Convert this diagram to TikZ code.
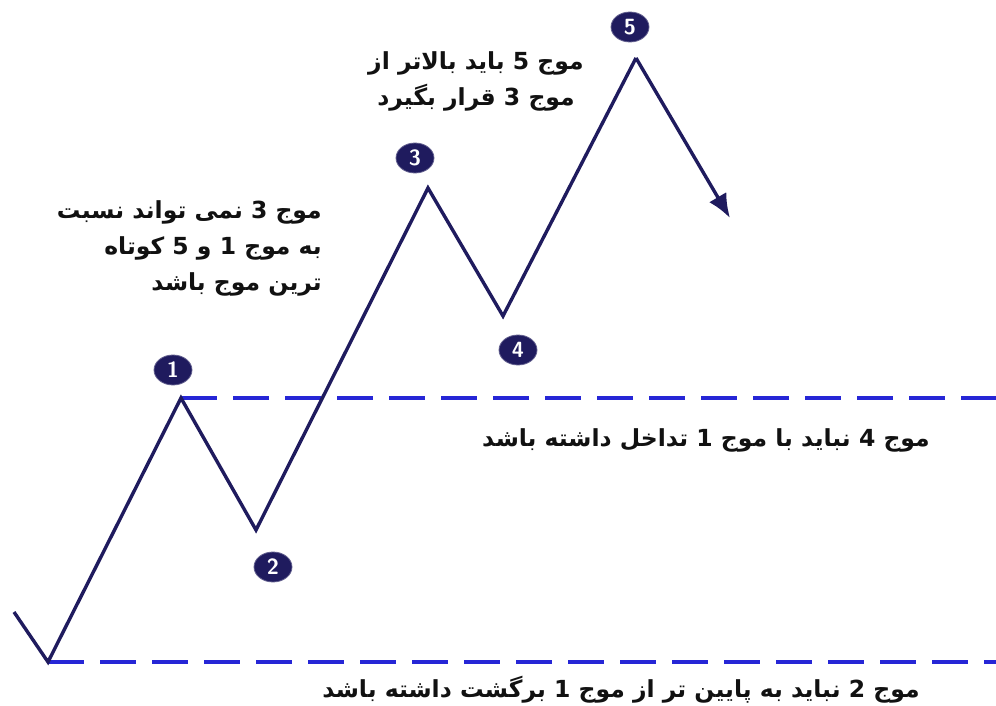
\documentclass[tikz,border=0pt]{standalone}
\usepackage{fontspec}
\usetikzlibrary{arrows.meta,positioning,shapes.geometric}
\TeXXeTstate=1
\newfontfamily\farsi[Script=Arabic]{DejaVu Sans}
\newcommand{\rtl}[1]{{\farsi\bfseries\beginR #1\endR}}
\definecolor{Navy}{HTML}{1F1B5E}
\definecolor{DashBlue}{HTML}{2626D6}
\definecolor{Ink}{HTML}{111111}

\begin{document}
\begin{tikzpicture}[
      x=1pt,y=-1pt,
      wave/.style={line width=3.4pt,color=Navy,line join=miter},
      level/.style={line width=4pt,color=DashBlue,dash pattern=on 36pt off 16pt},
      badge/.style={ellipse,fill=Navy,draw=Navy!70,line width=0.8pt,
        minimum width=38pt,minimum height=30pt,inner sep=0pt,
        text=white,font=\sffamily\bfseries\fontsize{22}{22}\selectfont},
      rule/.style={text=Ink,font=\fontsize{23.5}{36}\selectfont,inner sep=0pt}
    ]
      \useasboundingbox (0,0) rectangle (996,706);
      % wave points
      \coordinate (w0) at (14,612);
      \coordinate (w1) at (48,662);
      \coordinate (w2) at (181,398);
      \coordinate (w3) at (256,530);
      \coordinate (w4) at (428,188);
      \coordinate (w5) at (503,316);
      \coordinate (w6) at (636,58);
      \coordinate (w7) at (730,218);
      \coordinate (endA) at (996,398);
      \coordinate (endB) at (996,662);
      % levels
      \draw[level] (w2) -- (endA);
      \draw[level] (w1) -- (endB);
      % wave
      \draw[wave] (w0) -- (w1) -- (w2) -- (w3) -- (w4) -- (w5) -- (w6);
      \draw[wave,-{Latex[length=24pt,width=20pt]}] (w6) -- (w7);
      % badges
      \node[badge] (b1) at (173,370) {1};
      \node[badge] (b2) at (273,567) {2};
      \node[badge] (b3) at (415,158) {3};
      \node[badge] (b4) at (518,350) {4};
      \node[badge] (b5) at (630,27) {5};
      % rules
      \node[rule,align=center] (top) at (476,81)
        {\rtl{موج 5 باید بالاتر از}\\\rtl{موج 3 قرار بگیرد}};
      \node[rule,align=right,anchor=east] (left) at (322,248)
        {\rtl{موج 3 نمی تواند نسبت}\\\rtl{به موج 1 و 5 کوتاه}\\\rtl{ترین موج باشد}};
      \node[rule] (mid) at (706,440) {\rtl{موج 4 نباید با موج 1 تداخل داشته باشد}};
      \node[rule] (low) at (621,690) {\rtl{موج 2 نباید به پایین تر از موج 1 برگشت داشته باشد}};
    \end{tikzpicture}
\end{document}
